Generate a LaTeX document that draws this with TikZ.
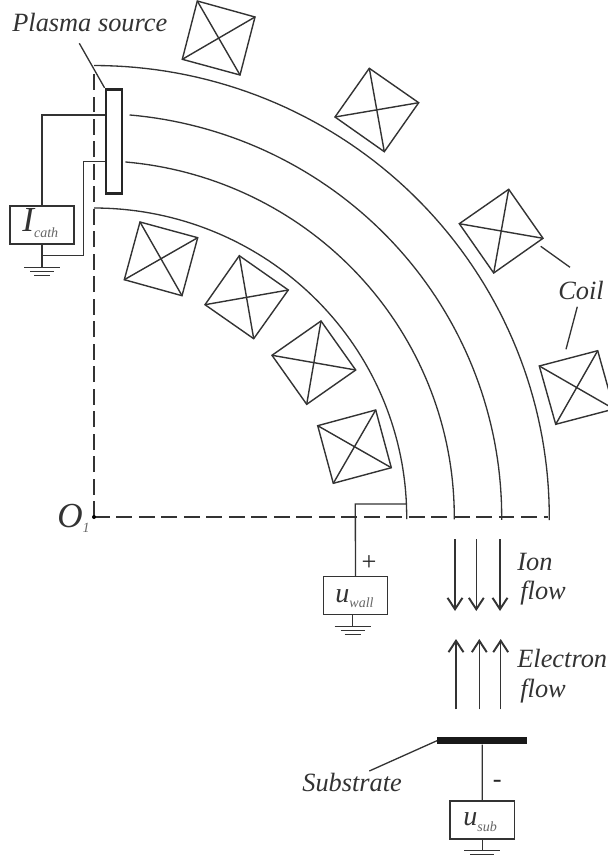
\documentclass[tikz,border=0pt]{standalone}
\usepackage{fontspec}
\setmainfont{Liberation Serif}
\usetikzlibrary{arrows.meta}
\definecolor{linegray}{gray}{0.2}
\tikzset{
  wire/.style={draw=linegray, line width=0.75pt},
  coilline/.style={draw=linegray, line width=0.8pt, line join=miter},
  axisline/.style={draw=linegray, line width=0.7pt, dash pattern=on 8.93pt off 3.87pt},
  flowline/.style={draw=linegray, line width=0.75pt, -{Straight Barb[length=6.5pt,width=8.5pt,line width=1.1pt]}},
  label/.style={inner sep=0pt, anchor=base west, font=\itshape\fontsize{15}{17}\selectfont, text=black!80},
  supply/.style={draw=linegray, line width=0.8pt, inner sep=0pt},
  sign/.style={inner sep=0pt, font=\fontsize{15}{17}\selectfont, text=black!85},
}
% one coil: four corners in order
\newcommand{\coil}[4]{
  \draw[coilline] (#1) -- (#2) -- (#3) -- (#4) -- cycle;
  \draw[coilline] (#1) -- (#3);
  \draw[coilline] (#2) -- (#4);
}
% earth symbol, hanging from a point
\newcommand{\earth}[3]{
  \draw[wire] (#1,#2) -- (#1,#3);
  \draw[wire] (#1-18,#3) -- (#1+18,#3);
  \draw[wire] (#1-12,#3+4) -- (#1+12,#3+4);
  \draw[wire] (#1-8,#3+7.5) -- (#1+8,#3+7.5);
}
% big letter (size, letter) with a small grey index
\newcommand{\quantity}[3]{{\itshape\fontsize{#1}{22}\selectfont #2}\raisebox{-3.2pt}{\itshape\fontsize{8}{9}\selectfont\textcolor{black!60}{#3}}}
\begin{document}
\begin{tikzpicture}[x=0.02cm,y=-0.02cm]
\clip (0,0) rectangle (608,858);
\coordinate (O) at (94,517);

% axes
\draw[axisline] (O) -- (94,73);
\draw[axisline] (O) -- (548,517);
\fill[black] (O) circle (2);

% channel walls
\draw[wire] plot[domain=-0.4:90,samples=70] ({94+455.3*cos(\x)},{517-451.5*sin(\x)});
\draw[wire] plot[domain=-0.4:85,samples=70] ({94+407.7*cos(\x)},{517-403.6*sin(\x)});
\draw[wire] plot[domain=-0.4:85,samples=70] ({94+360.3*cos(\x)},{517-356.4*sin(\x)});
\draw[wire] plot[domain=-0.4:90,samples=70] ({94+312.7*cos(\x)},{517-309*sin(\x)});

% coils, inner row
\coil{140,222}{197.7,237.7}{182,295.7}{124.3,279.7}
\coil{239.3,255.7}{288.3,290}{253.7,338.7}{205,304.7}
\coil{321,321}{355.7,370}{306.7,404.3}{272,355.3}
\coil{375.7,410}{391.3,467.7}{333.3,483.3}{317.7,425.7}
% coils, outer row
\coil{197.3,1}{255,17}{240,75}{182.3,59.3}
\coil{369.3,68.3}{418.7,102.7}{384.3,151.7}{335,117}
\coil{508.7,189.3}{543,238.3}{493.7,273}{459.3,223.7}
\coil{597.7,350.7}{614,409}{555.7,424.3}{539.3,366}

% plasma source
\node[draw=black!85, line width=1.6pt, minimum width=0.32cm, minimum height=2.08cm, inner sep=0pt] (source) at (114,141.3) {};
\node[label] (sourcetext) at (12,32) {Plasma source};
\coordinate (sourcefoot) at (79.3,43.3);
\draw[wire] (sourcefoot) -- (source.north west);

% cathode supply
\node[supply, minimum width=1.28cm, minimum height=0.76cm] (cath) at (42,225) {};
\node[label] (cathtext) at (22,232) {\quantity{20}{I}{cath}};
\coordinate (cathup) at (42,115);
\coordinate (cathleft) at (83.7,161.3);
\coordinate (cathlow) at (83.7,255.3);
\coordinate (cathjoin) at (42,255.3);
\draw[wire] (source.west |- cathup) -- (cathup) -- (cath.north -| cathup);
\draw[wire] (source.west |- cathleft) -- (cathleft) -- (cathlow) -- (cathjoin);
\earth{42}{244}{267.7}

% wall supply
\node[supply, minimum width=1.29cm, minimum height=0.76cm] (wall) at (355.5,595.7) {};
\node[label] (walltext) at (335,602) {\quantity{16}{u}{wall}};
\coordinate (walltap) at (406.7,504);
\coordinate (wallbend) at (355.3,504);
\draw[wire] (walltap) -- (wallbend) -- (wall.north);
\node[sign] (wallplus) at (369,562.7) {+};
\earth{352.7}{614.7}{626.7}

% ion flow
\foreach \xa in {455,476.3,500}
  \draw[flowline] (\xa,539.3) -- (\xa,611);
\node[label] (iontext) at (517,570) {Ion};
\node[label] (ionflow) at (520,599) {flow};

% electron flow
\foreach \xa in {456,479.3,500.7}
  \draw[flowline] (\xa,709.3) -- (\xa,639);
\node[label] (electrontext) at (517,667) {Electron};
\node[label] (electronflow) at (520,697) {flow};

% substrate
\node[fill=black!90, minimum width=1.8cm, minimum height=0.145cm, inner sep=0pt] (substrate) at (482.3,740.7) {};
\node[label] (substratetext) at (302,791) {Substrate};
\coordinate (substratefoot) at (369.3,771);
\draw[wire] (substratefoot) -- (substrate.west);

% substrate supply
\node[supply, minimum width=1.29cm, minimum height=0.76cm] (sub) at (482.2,819.8) {};
\node[label] (subtext) at (463,825.5) {\quantity{16}{u}{sub}};
\draw[wire] (substrate.south) -- (sub.north);
\node[sign] (subminus) at (497.3,784) {-};
\earth{482.3}{838.7}{850.7}

% coil labels
\node[label] (coiltext) at (558,299) {Coil};
\coordinate (coila) at (540.7,246.3);
\coordinate (coilb) at (570,267.3);
\coordinate (coilc) at (577.3,306.7);
\coordinate (coild) at (566,349.3);
\draw[wire] (coila) -- (coilb);
\draw[wire] (coilc) -- (coild);

% centre label
\node[label] (centre) at (57,527) {\quantity{20}{O}{1}};
\end{tikzpicture}
\end{document}
